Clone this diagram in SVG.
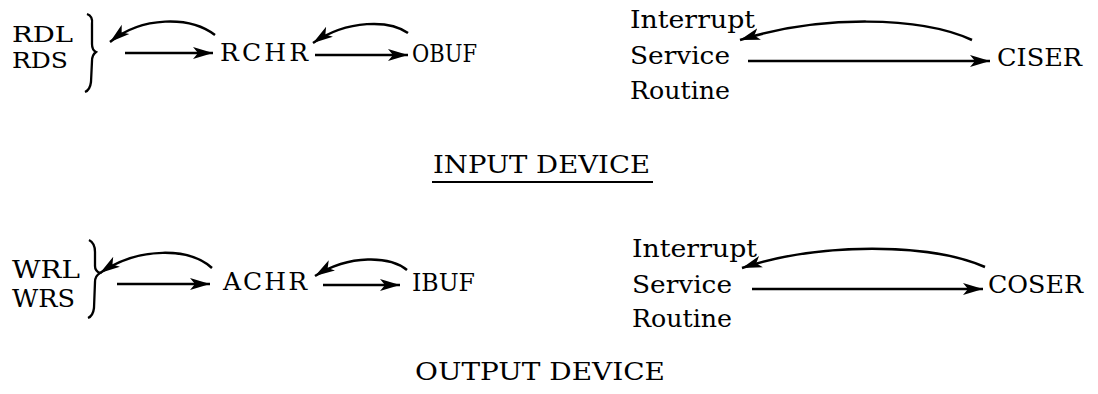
<svg xmlns="http://www.w3.org/2000/svg" width="1098" height="394" viewBox="0 0 1098 394">
<defs>
<marker id="ah" markerUnits="userSpaceOnUse" markerWidth="22" markerHeight="14" refX="20" refY="6" orient="auto" viewBox="0 0 22 12">
<path d="M0,0 L20,6 L0,12 L5,6 z" fill="#000"/>
</marker>
<style>
text{font-family:"DejaVu Serif","Liberation Serif",serif;font-size:25px;fill:#000}
.s{font-size:23px}
.c{fill:none;stroke:#000;stroke-width:2.5;marker-end:url(#ah)}
.b{fill:none;stroke:#000;stroke-width:2.3}
</style>
</defs>
<rect width="1098" height="394" fill="#fff"/>
<g id="rdl-rds">
<text class="s" x="12" y="42" textLength="61" lengthAdjust="spacingAndGlyphs">RDL</text>
<text class="s" x="12" y="68" textLength="56" lengthAdjust="spacingAndGlyphs">RDS</text>
<path class="b" d="M87 14 Q93 16 92 24 L92 44 Q92 50 96 52 Q92 55 92 61 L91 82 Q90 90 85 92"/>
</g>
<g id="rchr"><text x="220" y="61" textLength="88" lengthAdjust="spacing">RCHR</text></g>
<g id="obuf"><text x="412" y="62" textLength="65" lengthAdjust="spacingAndGlyphs">OBUF</text></g>
<g id="isr-in">
<text x="630" y="28" textLength="125" lengthAdjust="spacingAndGlyphs">Interrupt</text>
<text x="630" y="64" textLength="100" lengthAdjust="spacingAndGlyphs">Service</text>
<text x="630" y="99" textLength="100" lengthAdjust="spacingAndGlyphs">Routine</text>
</g>
<g id="ciser"><text x="997" y="66" textLength="85" lengthAdjust="spacingAndGlyphs">CISER</text></g>
<g id="input-title">
<text x="433" y="173" textLength="217" lengthAdjust="spacingAndGlyphs">INPUT DEVICE</text>
<line x1="432" y1="182" x2="653" y2="182" stroke="#000" stroke-width="2.2"/>
</g>
<g id="wrl-wrs">
<text x="12" y="278" textLength="68" lengthAdjust="spacingAndGlyphs">WRL</text>
<text x="12" y="307" textLength="63" lengthAdjust="spacingAndGlyphs">WRS</text>
<path class="b" d="M89 240 Q95 243 95 252 L95 266 Q95 271 100 273 Q95 276 95 282 L94 308 Q93 316 88 318"/>
</g>
<g id="achr"><text x="223" y="290" textLength="84" lengthAdjust="spacing">ACHR</text></g>
<g id="ibuf"><text x="412" y="291" textLength="63" lengthAdjust="spacingAndGlyphs">IBUF</text></g>
<g id="isr-out">
<text x="632" y="257" textLength="125" lengthAdjust="spacingAndGlyphs">Interrupt</text>
<text x="632" y="293" textLength="100" lengthAdjust="spacingAndGlyphs">Service</text>
<text x="632" y="327" textLength="100" lengthAdjust="spacingAndGlyphs">Routine</text>
</g>
<g id="coser"><text x="988" y="293" textLength="95" lengthAdjust="spacingAndGlyphs">COSER</text></g>
<g id="output-title"><text x="415" y="380" textLength="250" lengthAdjust="spacingAndGlyphs">OUTPUT DEVICE</text></g>
<g id="connectors">
<path class="c" d="M215 35 C190 16 142 16 110 42"/>
<path class="c" d="M125 53 L213 53"/>
<path class="c" d="M408 33 C390 20 348 19 313 43"/>
<path class="c" d="M315 55 L408 55"/>
<path class="c" d="M972 40 C920 16 820 15 740 40"/>
<path class="c" d="M748 61 L990 61"/>
<path class="c" d="M212 268 C190 248 140 246 100 273"/>
<path class="c" d="M117 284 L210 284"/>
<path class="c" d="M407 270 C390 256 350 254 315 276"/>
<path class="c" d="M323 285 L400 285"/>
<path class="c" d="M985 267 C930 243 820 242 742 268"/>
<path class="c" d="M752 289 L983 289"/>
</g>
</svg>
